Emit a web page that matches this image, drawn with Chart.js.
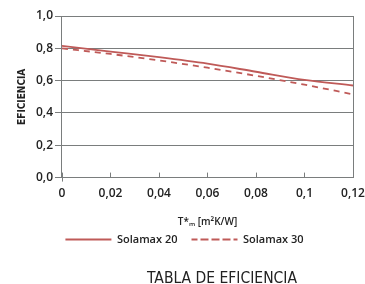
<!DOCTYPE html>
<html>
<head>
<meta charset="utf-8">
<script src="https://cdn.jsdelivr.net/npm/chart.js@4"></script>
<style>
  html, body { margin: 0; padding: 0; background: #fff; }
  #wrap { width: 365px; height: 284px; }
</style>
</head>
<body>
<div id="wrap"><canvas id="chartA"></canvas></div>
<script>
var xValues = [0, 0.02, 0.04, 0.06, 0.08, 0.1, 0.12];
var solamax20 = [0.815, 0.78, 0.745, 0.705, 0.655, 0.605, 0.57];
var solamax30 = [0.80, 0.765, 0.725, 0.68, 0.63, 0.575, 0.515];
var xTickLabels = ['0', '0,02', '0,04', '0,06', '0,08', '0,1', '0,12'];
var yTickLabels = ['0,0', '0,2', '0,4', '0,6', '0,8', '1,0'];

var lineColor = '#bf5a58';
var gridColor = '#7a7d7d';
var tickFont = { family: 'Open Sans', size: 12, weight: '600' };

function points(ys) {
    return xValues.map(function (x, i) { return { x: x, y: ys[i] }; });
}

// small tick marks on the x axis pointing up into the plot
var xTickMarks = {
    id: 'xTickMarks',
    afterDatasetsDraw: function (chart) {
        var c = chart.ctx, sx = chart.scales.x, bottom = chart.chartArea.bottom;
        c.save();
        c.strokeStyle = gridColor;
        c.lineWidth = 1;
        sx.ticks.forEach(function (t, i) {
            var px = Math.round(sx.getPixelForValue(t.value)) + 0.5;
            c.beginPath();
            c.moveTo(px, bottom - 5);
            c.lineTo(px, bottom + (i === 0 ? 4 : 0));
            c.stroke();
        });
        c.restore();
    }
};

// caption below the chart
var caption = {
    id: 'caption',
    afterDraw: function (chart) {
        var c = chart.ctx;
        c.save();
        c.fillStyle = '#222';
        c.font = '15.5px "DejaVu Sans Condensed", sans-serif';
        c.textAlign = 'center';
        c.textBaseline = 'middle';
        c.fillText('TABLA DE EFICIENCIA', 222, 279);
        c.restore();
    }
};

var chartData = {
    type: 'line',
    data: {
        datasets: [
            {
                label: 'Solamax 20',
                data: points(solamax20),
                borderColor: lineColor,
                backgroundColor: 'transparent',
                borderWidth: 1.8,
                pointRadius: 0,
                cubicInterpolationMode: 'monotone',
                fill: false
            },
            {
                label: 'Solamax 30',
                data: points(solamax30),
                borderColor: lineColor,
                backgroundColor: 'transparent',
                borderWidth: 1.8,
                borderDash: [6, 5],
                pointRadius: 0,
                cubicInterpolationMode: 'monotone',
                fill: false
            }
        ]
    },
    options: {
        responsive: true,
        maintainAspectRatio: false,
        animation: false,
        layout: { padding: { left: 16, right: 12, top: 16, bottom: 29 } },
        plugins: {
            legend: {
                position: 'bottom',
                labels: {
                    boxWidth: 46,
                    boxHeight: 0,
                    padding: 14,
                    color: '#222',
                    font: { family: 'Open Sans', size: 11, weight: '600' }
                }
            },
            title: { display: false },
            tooltip: { enabled: false }
        },
        scales: {
            x: {
                type: 'linear',
                min: 0,
                max: 0.12,
                afterFit: function (scale) { scale.paddingRight = 0; },
                ticks: {
                    stepSize: 0.02,
                    padding: 9,
                    color: '#222',
                    font: tickFont,
                    maxRotation: 0,
                    callback: function (v, i) { return xTickLabels[i]; }
                },
                grid: {
                    drawTicks: false,
                    color: function (ctx) { return ctx.index === xTickLabels.length - 1 ? gridColor : 'transparent'; }
                },
                border: { color: gridColor },
                title: {
                    display: true,
                    text: 'T*ₘ [m²K/W]',
                    color: '#222',
                    font: { family: 'Open Sans', size: 10, weight: '600' },
                    padding: { top: 6, bottom: -8 }
                }
            },
            y: {
                min: 0,
                max: 1,
                ticks: {
                    stepSize: 0.2,
                    padding: 2,
                    color: '#222',
                    font: tickFont,
                    callback: function (v, i) { return yTickLabels[i]; }
                },
                grid: { color: gridColor, tickLength: 7 },
                border: { color: gridColor },
                title: {
                    display: true,
                    text: 'EFICIENCIA',
                    color: '#222',
                    font: { family: 'DejaVu Sans Condensed', size: 10, weight: 'bold' },
                    padding: { top: 0, bottom: 6 }
                }
            }
        }
    },
    plugins: [xTickMarks, caption]
};

var myChart = new Chart(document.getElementById('chartA').getContext('2d'), chartData);
</script>
</body>
</html>
